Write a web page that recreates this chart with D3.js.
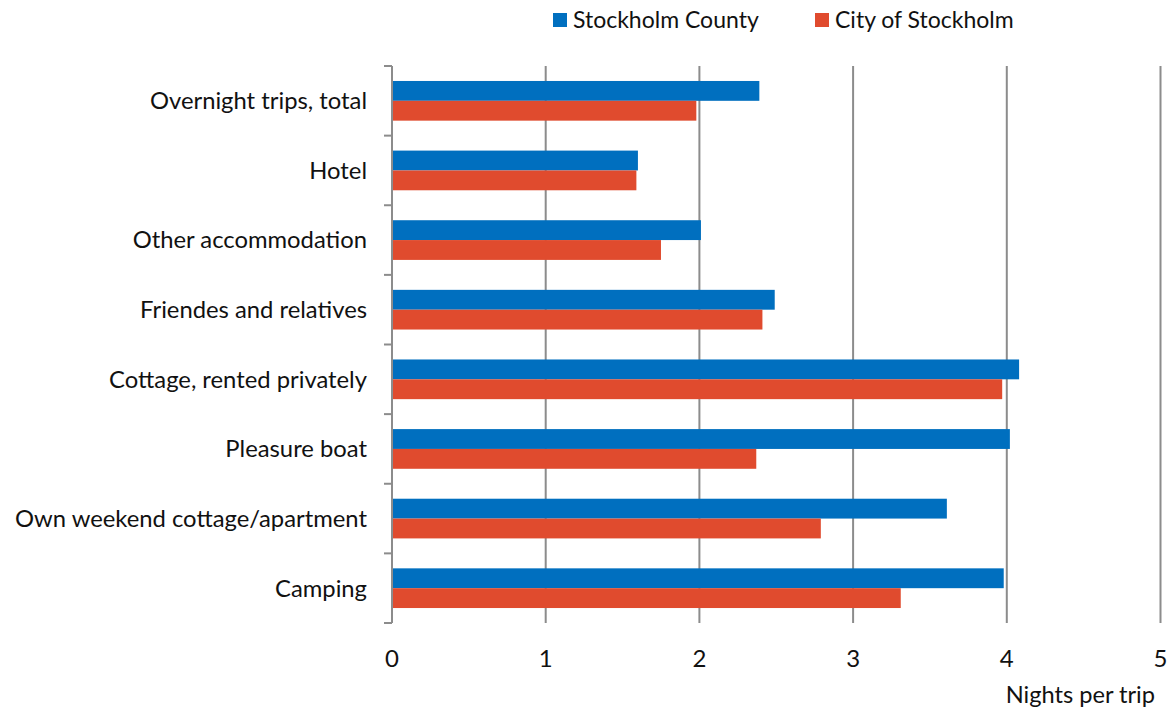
<!DOCTYPE html>
<html>
<head>
<meta charset="utf-8">
<title>nights-per-trip</title>
<style>
  body { margin: 0; background: #fff; }
  svg text { font-family: Lato, "Open Sans", sans-serif; fill: #111; }
  .grid line { stroke: #8c8c8c; stroke-width: 2; }
  .yaxis path, .yaxis line { stroke: #8c8c8c; stroke-width: 2; fill: none; }
</style>
</head>
<body>
<script src="https://cdn.jsdelivr.net/npm/d3@7"></script>
<script>
// data
var categories = ['Overnight trips, total', 'Hotel', 'Other accommodation', 'Friendes and relatives',
                  'Cottage, rented privately', 'Pleasure boat', 'Own weekend cottage/apartment', 'Camping'];
var seriesNames = ['Stockholm County', 'City of Stockholm'];
var countyValues = [2.39, 1.60, 2.01, 2.49, 4.08, 4.02, 3.61, 3.98];
var cityValues   = [1.98, 1.59, 1.75, 2.41, 3.97, 2.37, 2.79, 3.31];
var xTicks = [0, 1, 2, 3, 4, 5];
var colors = ['#006fbf', '#e04b2e'];

var svgWidth = 1168, svgHeight = 709;
var margin = { top: 66, right: 8, bottom: 86, left: 392 };
var width = svgWidth - margin.left - margin.right;
var height = svgHeight - margin.top - margin.bottom;

var rows = categories.map(function (c, i) {
    return { cat: c, values: [countyValues[i], cityValues[i]] };
});

var x = d3.scaleLinear().domain([0, 5]).range([0, 768.5]);
var y = d3.scaleBand().domain(categories).range([0, height]).paddingInner(0.43).paddingOuter(0.215);
var y0 = d3.scaleBand().domain(categories).range([0, height]);
var ySub = d3.scaleBand().domain([0, 1]).range([0, y.bandwidth()]);

var svg = d3.select('body').append('svg').attr('width', svgWidth).attr('height', svgHeight);
var g = svg.append('g').attr('transform', 'translate(' + margin.left + ',' + margin.top + ')');

// vertical gridlines
g.append('g').attr('class', 'grid')
    .selectAll('line').data(xTicks.slice(1)).enter().append('line')
    .attr('x1', function (d) { return x(d); }).attr('x2', function (d) { return x(d); })
    .attr('y1', 0).attr('y2', height);

// bars
var groups = g.selectAll('.cat').data(rows).enter().append('g')
    .attr('transform', function (d) { return 'translate(0,' + y(d.cat) + ')'; });
groups.selectAll('rect').data(function (d) { return d.values; }).enter().append('rect')
    .attr('x', 1)
    .attr('y', function (d, i) { return ySub(i); })
    .attr('width', function (d) { return x(d) - 1; })
    .attr('height', ySub.bandwidth())
    .attr('fill', function (d, i) { return colors[i]; });

// y axis with category boundary ticks
var yAxisG = g.append('g').attr('class', 'yaxis');
yAxisG.append('line').attr('x1', 0).attr('x2', 0).attr('y1', 0).attr('y2', height);
var bounds = categories.map(function (c) { return y0(c); }).concat([height]);
yAxisG.selectAll('.tk').data(bounds).enter().append('line')
    .attr('x1', -8).attr('x2', 0)
    .attr('y1', function (d) { return d; }).attr('y2', function (d) { return d; });

g.selectAll('.ylab').data(categories).enter().append('text')
    .attr('x', -25)
    .attr('y', function (d) { return y0(d) + y0.bandwidth() / 2; })
    .attr('dy', '0.35em')
    .attr('text-anchor', 'end')
    .style('font-size', '23.8px')
    .text(function (d) { return d; });

// x tick labels
g.selectAll('.xlab').data(xTicks).enter().append('text')
    .attr('x', function (d) { return x(d); })
    .attr('y', height + 44)
    .attr('text-anchor', 'middle')
    .style('font-size', '24px')
    .text(function (d) { return d; });

g.append('text')
    .attr('x', 763).attr('y', height + 80)
    .attr('text-anchor', 'end')
    .style('font-size', '23.6px')
    .text('Nights per trip');

// legend
var legendX = [553, 815];
var legend = svg.selectAll('.leg').data(seriesNames).enter().append('g')
    .attr('transform', function (d, i) { return 'translate(' + legendX[i] + ',13)'; });
legend.append('rect').attr('width', 14).attr('height', 14)
    .attr('fill', function (d, i) { return colors[i]; });
legend.append('text').attr('x', 20).attr('y', 7).attr('dy', '0.35em')
    .style('font-size', '23px')
    .text(function (d) { return d; });
</script>
</body>
</html>
